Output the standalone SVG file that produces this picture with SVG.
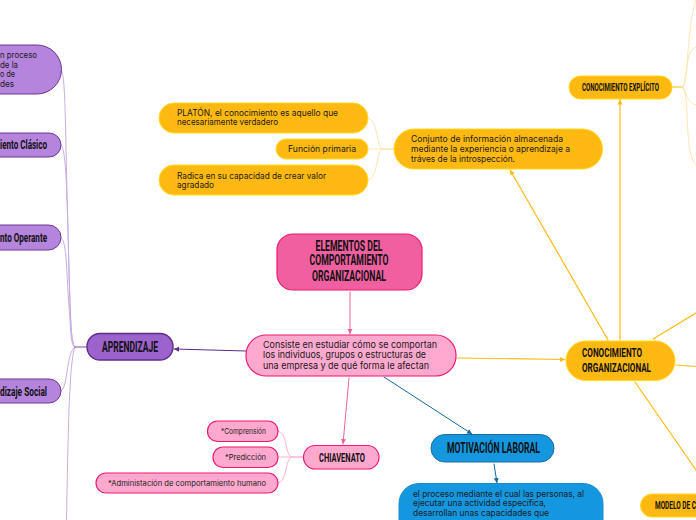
<svg xmlns="http://www.w3.org/2000/svg" width="696" height="520" viewBox="0 0 696 520" font-size="9">
<style>
text{font-family:"Inter","Noto Sans","Liberation Sans",sans-serif;fill:#1a1a1a}
text.t{font-family:"Liberation Sans Narrow","Roboto","Liberation Sans",sans-serif;font-weight:700;fill:#111}
.c{fill:none;stroke-linecap:round}
.y{stroke:#ffbb12;stroke-width:1.2}
.yl{stroke:#fde7b0;stroke-width:1}
.pl{stroke:#c9addf;stroke-width:1}
.rl{stroke:#fbb3d1;stroke-width:1}
.o{fill:#ffb911;stroke:#ffd91e;stroke-width:1}
.m{fill:#b584dc;stroke:#6a3594;stroke-width:1}
.r{fill:#ffa9cf;stroke:#f0196f;stroke-width:1.2}
</style>
<defs>
<marker id="ay" markerUnits="userSpaceOnUse" markerWidth="6" markerHeight="6" refX="5" refY="3" orient="auto"><path d="M0 0.5L5 3L0 5.500Z" fill="#ffbb12"/></marker>
<marker id="ap" markerUnits="userSpaceOnUse" markerWidth="6" markerHeight="6" refX="5" refY="3" orient="auto"><path d="M0 0.5L5 3L0 5.500Z" fill="#f0609f"/></marker>
<marker id="am" markerUnits="userSpaceOnUse" markerWidth="6" markerHeight="6" refX="5" refY="3" orient="auto"><path d="M0 0.5L5 3L0 5.500Z" fill="#5e2d8c"/></marker>
<marker id="ab" markerUnits="userSpaceOnUse" markerWidth="6" markerHeight="6" refX="5" refY="3" orient="auto"><path d="M0 0.5L5 3L0 5.500Z" fill="#14689f"/></marker>
</defs>
<g id="connectors">
<path class="c pl" d="M61 70C66 72 65 130 68 230C70 320 71 345 75 347"/>
<path class="c pl" d="M61 145C66 147 67 190 69 270C71 330 71 345 75 347"/>
<path class="c pl" d="M61 238C67 240 66 270 70 320C71 340 72 346 75 347"/>
<path class="c pl" d="M61 391C68 389 66 352 75 347"/>
<path class="c pl" d="M66.500 520C68 440 69 360 75 347"/>
<path class="c" stroke="#7a4aa8" stroke-width="1" d="M75 347H87"/>
<path class="c" stroke="#5e2d8c" stroke-width="1" marker-end="url(#am)" d="M246 351L174 349"/>
<path class="c" stroke="#f0609f" stroke-width="1" marker-end="url(#ap)" d="M350 292V334"/>
<path class="c" stroke="#f0609f" stroke-width="1" marker-end="url(#ap)" d="M349 378L343 444"/>
<path class="c" stroke="#14689f" stroke-width="1" marker-end="url(#ab)" d="M384 377L472 434"/>
<path class="c" stroke="#14689f" stroke-width="1" marker-end="url(#ab)" d="M494 464L497 483"/>
<path class="c y" marker-end="url(#ay)" d="M457 358L565 359.500"/>
<path class="c y" marker-end="url(#ay)" d="M620 340V99.500"/>
<path class="c y" marker-end="url(#ay)" d="M608 340L510 170"/>
<path class="c y" d="M653 339L696 313"/>
<path class="c y" d="M676 365L696 366.500"/>
<path class="c y" d="M635 382L696 470"/>
<path class="c" stroke="#fde7b0" stroke-width="1" d="M368 149H382"/>
<path class="c" stroke="#ffd27a" stroke-width="1" d="M382 149H394"/>
<path class="c yl" d="M368 118C378 120 376 145 382 149"/>
<path class="c yl" d="M368 180C378 178 376 153 382 149"/>
<path class="c" stroke="#ffbb12" stroke-width="1" d="M672 87H683"/>
<path class="c yl" d="M683 87C689 80 686 30 696 0"/>
<path class="c yl" d="M683 87C688 75 685 50 696 47"/>
<path class="c yl" d="M683 87C688 100 690 103 696 105"/>
<path class="c yl" d="M683 87C690 100 684 155 696 165"/>
<path class="c" stroke="#f98fbd" stroke-width="1" d="M303 457H291"/>
<path class="c rl" d="M278 431C288 433 284 452 291 457"/>
<path class="c rl" d="M278 457H291"/>
<path class="c rl" d="M278 483C288 481 284 462 291 457"/>
</g>
<g id="n1"><path class="m" d="M-20 45H37A24.500 24.500 0 0 1 37 94H-20Z"/><text x="0" y="58" textLength="37" lengthAdjust="spacingAndGlyphs">n proceso</text><text x="0" y="68" textLength="18" lengthAdjust="spacingAndGlyphs">de la</text><text x="0" y="77" textLength="15" lengthAdjust="spacingAndGlyphs">o de</text><text x="0" y="87" textLength="14" lengthAdjust="spacingAndGlyphs">des</text></g>
<g id="n2"><path class="m" d="M-20 133H49A12 12 0 0 1 49 157H-20Z"/><text class="t" x="0" y="149" font-size="12" textLength="47" lengthAdjust="spacingAndGlyphs">iento Clásico</text></g>
<g id="n3"><path class="m" d="M-20 225H48.500A12.500 12.500 0 0 1 48.500 250H-20Z"/><text class="t" x="0" y="242" font-size="12" textLength="47" lengthAdjust="spacingAndGlyphs">nto Operante</text></g>
<g id="n4"><path class="m" d="M-20 379H49A12 12 0 0 1 49 403H-20Z"/><text class="t" x="0" y="396" font-size="12" textLength="47" lengthAdjust="spacingAndGlyphs">dizaje Social</text></g>
<g id="aprendizaje"><rect x="87" y="333.500" width="86" height="26.500" rx="13" fill="#9c63cc" stroke="#5e2d8c" stroke-width="1.400"/><text class="t" x="102" y="352" font-size="14" textLength="56" lengthAdjust="spacingAndGlyphs">APRENDIZAJE</text></g>
<g id="platon"><rect x="159" y="103" width="209" height="30" rx="15" class="o"/><text x="177" y="116" textLength="161" lengthAdjust="spacingAndGlyphs">PLATÓN, el conocimiento es aquello que</text><text x="177" y="125" textLength="101" lengthAdjust="spacingAndGlyphs">necesariamente verdadero</text></g>
<g id="funcion"><rect x="276" y="139" width="92" height="20" rx="10" class="o"/><text x="288" y="152" textLength="68" lengthAdjust="spacingAndGlyphs">Función primaria</text></g>
<g id="radica"><rect x="159" y="165" width="209" height="30" rx="15" class="o"/><text x="177" y="179" textLength="149" lengthAdjust="spacingAndGlyphs">Radica en su capacidad de crear valor</text><text x="177" y="188" textLength="37" lengthAdjust="spacingAndGlyphs">agradado</text></g>
<g id="conjunto"><rect x="394" y="129" width="208.500" height="40" rx="20" class="o"/><text x="411" y="142" textLength="152" lengthAdjust="spacingAndGlyphs">Conjunto de información almacenada</text><text x="411" y="152" textLength="159" lengthAdjust="spacingAndGlyphs">mediante la experiencia o aprendizaje a</text><text x="411" y="162" textLength="104" lengthAdjust="spacingAndGlyphs">tráves de la introspección.</text></g>
<g id="explicito"><rect x="569" y="76" width="103" height="23" rx="11.500" class="o"/><text class="t" x="582" y="90.500" font-size="10.500" textLength="77" lengthAdjust="spacingAndGlyphs">CONOCIMIENTO EXPLÍCITO</text></g>
<g id="organizacional"><rect x="566" y="341" width="109" height="39.500" rx="19.700" class="o"/><text class="t" x="582" y="357" font-size="13" textLength="60" lengthAdjust="spacingAndGlyphs">CONOCIMIENTO</text><text class="t" x="582" y="372" font-size="13" textLength="69" lengthAdjust="spacingAndGlyphs">ORGANIZACIONAL</text></g>
<g id="modelo"><path class="o" d="M710 494H652A11.500 11.500 0 0 0 652 517H710Z"/><text class="t" x="655" y="509" font-size="11" textLength="41" lengthAdjust="spacingAndGlyphs">MODELO DE C</text></g>
<g id="titulo"><rect x="277" y="234" width="145" height="56" rx="16" fill="#f060a0" stroke="#f0196f" stroke-width="1.200"/><text class="t" x="349" y="251" text-anchor="middle" font-size="14" textLength="67" lengthAdjust="spacingAndGlyphs">ELEMENTOS DEL</text><text class="t" x="349" y="265" text-anchor="middle" font-size="14" textLength="79" lengthAdjust="spacingAndGlyphs">COMPORTAMIENTO</text><text class="t" x="349" y="281" text-anchor="middle" font-size="14" textLength="74" lengthAdjust="spacingAndGlyphs">ORGANIZACIONAL</text></g>
<g id="consiste"><rect x="246" y="335" width="210" height="41" rx="20" class="r"/><text x="263" y="348" font-size="9.500" textLength="174" lengthAdjust="spacingAndGlyphs">Consiste en estudiar cómo se comportan</text><text x="263" y="358" font-size="9.500" textLength="163" lengthAdjust="spacingAndGlyphs">los individuos, grupos o estructuras de</text><text x="263" y="369" font-size="9.500" textLength="166" lengthAdjust="spacingAndGlyphs">una empresa y de qué forma le afectan</text></g>
<g id="chiavenato"><rect x="303.500" y="445.500" width="75.500" height="23.500" rx="11.700" class="r"/><text class="t" x="319" y="462" font-size="13.500" textLength="46" lengthAdjust="spacingAndGlyphs">CHIAVENATO</text></g>
<g id="comprension"><rect x="207.500" y="421" width="70.500" height="20.500" rx="10" class="r"/><text x="221" y="434" font-size="7.500" textLength="45" lengthAdjust="spacingAndGlyphs">*Comprensión</text></g>
<g id="prediccion"><rect x="213" y="447" width="65" height="20.500" rx="10" class="r"/><text x="225" y="460" font-size="7.500" textLength="41" lengthAdjust="spacingAndGlyphs">*Predicción</text></g>
<g id="administacion"><rect x="96" y="473" width="182" height="20" rx="10" class="r"/><text x="108" y="486" font-size="7.500" textLength="158" lengthAdjust="spacingAndGlyphs">*Administación de comportamiento humano</text></g>
<g id="motivacion"><rect x="431" y="434.500" width="123" height="27.500" rx="13.700" fill="#1597e0" stroke="#1a6d9e" stroke-width="1"/><text class="t" x="447" y="453" font-size="14" textLength="93" lengthAdjust="spacingAndGlyphs">MOTIVACIÓN LABORAL</text></g>
<g id="proceso"><rect x="399" y="483.500" width="204" height="60" rx="20" fill="#1597e0" stroke="#1a8ad0" stroke-width="1"/><text x="413" y="497" textLength="171" lengthAdjust="spacingAndGlyphs">el proceso mediante el cual las personas, al</text><text x="413" y="506" textLength="133" lengthAdjust="spacingAndGlyphs">ejecutar una actividad específica,</text><text x="413" y="516" textLength="136" lengthAdjust="spacingAndGlyphs">desarrollan unas capacidades que</text></g>
</svg>
